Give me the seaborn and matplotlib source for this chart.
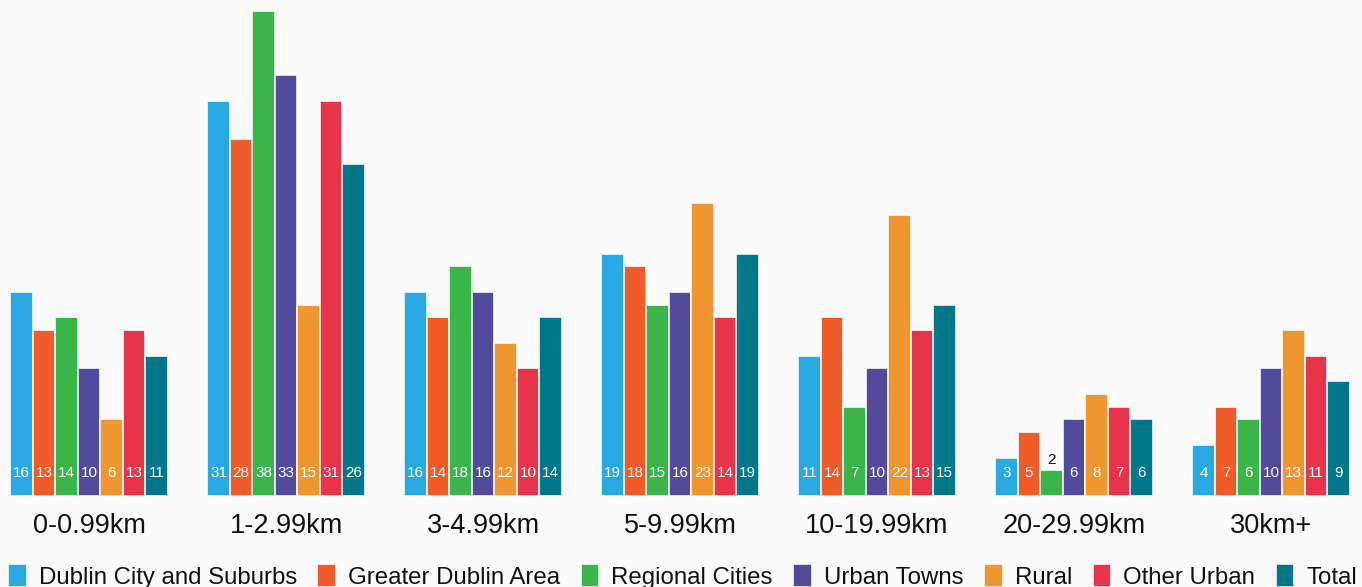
import matplotlib
matplotlib.use("Agg")
import matplotlib.pyplot as plt
import seaborn as sns
import pandas as pd

# Distance bands and area types
bands = ["0-0.99km", "1-2.99km", "3-4.99km", "5-9.99km",
         "10-19.99km", "20-29.99km", "30km+"]
areas = ["Dublin City and Suburbs", "Greater Dublin Area", "Regional Cities",
         "Urban Towns", "Rural", "Other Urban", "Total"]

dublin_city = [16, 31, 16, 19, 11, 3, 4]
greater_dublin = [13, 28, 14, 18, 14, 5, 7]
regional_cities = [14, 38, 18, 15, 7, 2, 6]
urban_towns = [10, 33, 16, 16, 10, 6, 10]
rural = [6, 15, 12, 23, 22, 8, 13]
other_urban = [13, 31, 10, 14, 13, 7, 11]
total = [11, 26, 14, 19, 15, 6, 9]

colors = ["#27aae1", "#f15a29", "#39b54a", "#524a9c",
          "#f0962e", "#e8334a", "#00788a"]

series = [dublin_city, greater_dublin, regional_cities, urban_towns,
          rural, other_urban, total]
df = pd.DataFrame(
    [(b, a, v) for a, vals in zip(areas, series) for b, v in zip(bands, vals)],
    columns=["band", "area", "value"],
)

BG = "#fafafa"
FONT = ["Liberation Sans", "DejaVu Sans"]

sns.set_theme(style="white")
plt.rcParams["font.family"] = FONT

fig = plt.figure(figsize=(13.62, 5.87), dpi=100, facecolor=BG)
ax = fig.add_axes([0, 91 / 587, 1, 496 / 587], facecolor=BG)

sns.barplot(data=df, x="band", y="value", hue="area", order=bands,
            hue_order=areas, palette=colors, width=0.8, saturation=1,
            edgecolor=BG, linewidth=1.2, ax=ax, legend=True)

ax.set_xlim(-0.452, 6.462)
ax.set_ylim(0, 38.9)
ax.set_xlabel("")
ax.set_ylabel("")
ax.set_yticks([])
ax.tick_params(axis="x", length=0, pad=12, labelsize=19.5, labelcolor="#111111")
for s in ax.spines.values():
    s.set_visible(False)

# Value labels: inside near the base, or above the bar when it is too short
label_y = 1.8
for container in ax.containers:
    for bar in container:
        h = bar.get_height()
        cx = bar.get_x() + bar.get_width() / 2
        if h >= 2.9:
            ax.text(cx, label_y, f"{h:.0f}", ha="center", va="center",
                    color="white", fontsize=11)
        else:
            ax.text(cx, h + 0.8, f"{h:.0f}", ha="center", va="center",
                    color="#111111", fontsize=11)

handles, labels = ax.get_legend_handles_labels()
ax.legend_.remove()
fig.legend(handles, labels, loc="upper left", bbox_to_anchor=(8 / 1362, 1 - 564 / 587),
           ncol=7, frameon=False, fontsize=17.3, borderpad=0, borderaxespad=0,
           handlelength=0.78, handleheight=1.1, handletextpad=0.5,
           columnspacing=0.85, labelcolor="#111111")

fig.savefig("out.png", dpi=100, facecolor=BG)
